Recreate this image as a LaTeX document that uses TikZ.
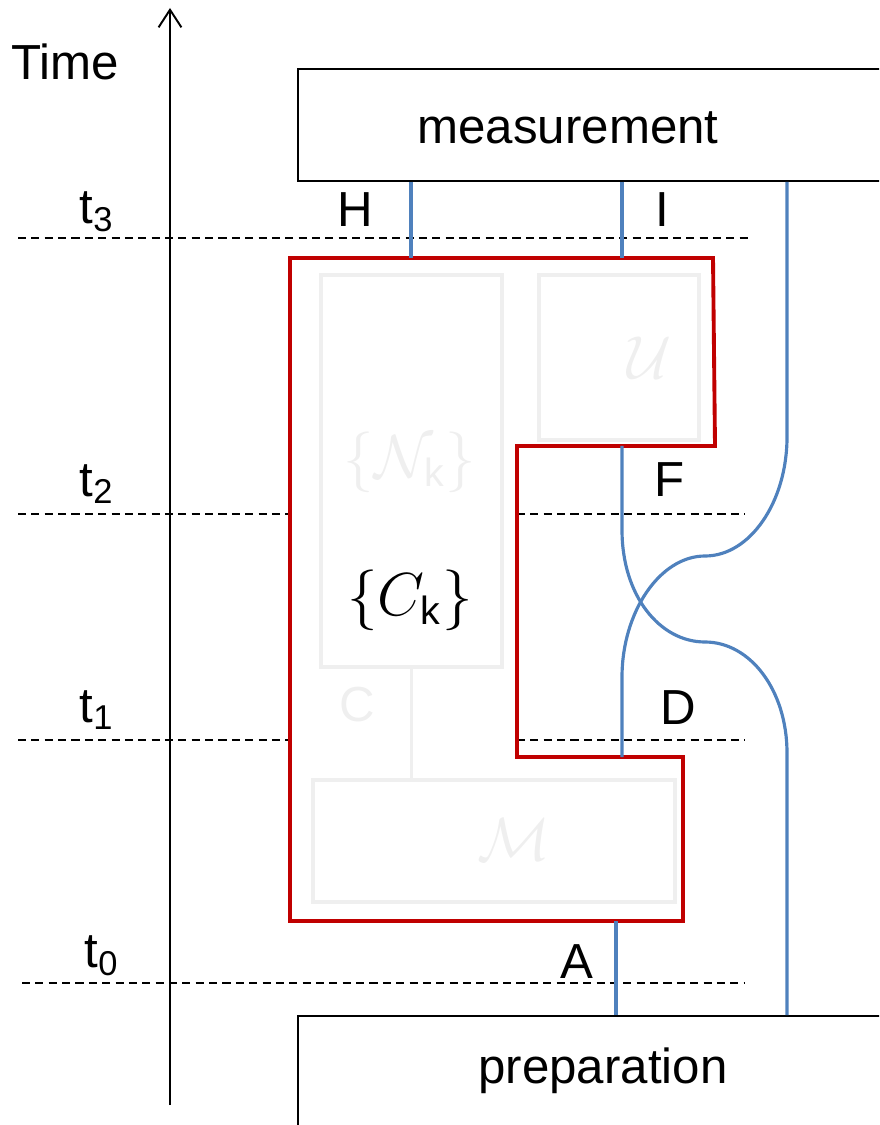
\documentclass[tikz,border=0pt]{standalone}
\usepackage{amsmath}
\usepackage{fontspec}
\setmainfont{Liberation Sans}
\usepackage{tikz}
\usetikzlibrary{arrows.meta}

\definecolor{wireblue}{HTML}{4F81BD}
\definecolor{combred}{HTML}{C00000}
\definecolor{faded}{HTML}{EFEFEF}

\tikzset{
  lbl/.style={inner sep=0pt, font=\fontsize{14}{17}\selectfont},
  opbox/.style={draw, line width=0.55pt, anchor=north west, inner sep=0pt},
  ghost/.style={draw=faded, line width=1pt, anchor=north west, inner sep=0pt},
  ghosttext/.style={inner sep=0pt, text=faded},
  wire/.style={wireblue, line width=0.9pt},
  comb/.style={combred, line width=1.1pt, line join=miter},
  slice/.style={line width=0.5pt, dash pattern=on 2.3pt off 1.5pt}
}

\begin{document}
\begin{tikzpicture}[x=0.01cm, y=-0.01cm]
  \clip (0,0) rectangle (879,1125);

  % time axis and time slices
  \draw[line width=0.55pt, -{Straight Barb[length=5pt, width=6.5pt]}] (170,1105) -- (170,8);
  \node[lbl] (time) at (65,62) {Time};
  \draw[slice] (18,238) -- (750,238);
  \draw[slice] (18,514) -- (290,514);
  \draw[slice] (517,514) -- (745,514);
  \draw[slice] (18,740) -- (290,740);
  \draw[slice] (517,740) -- (745,740);
  \draw[slice] (22,983) -- (745,983);
  \node[lbl] (t3) at (97,212) {t\textsubscript{3}};
  \node[lbl] (t2) at (97,484) {t\textsubscript{2}};
  \node[lbl] (t1) at (97,710) {t\textsubscript{1}};
  \node[lbl] (t0) at (102,956) {t\textsubscript{0}};

  % preparation and measurement
  \node[opbox, minimum width=6.5cm, minimum height=1.12cm] (meas) at (297,68) {};
  \node[lbl] (meastext) at (568,128) {measurement};
  \node[opbox, minimum width=6.5cm, minimum height=1.5cm] (prep) at (297,1015) {};
  \node[lbl] (preptext) at (603,1071) {preparation};

  % faded inner operations
  \node[ghost, minimum width=1.81cm, minimum height=3.92cm] (Nbox) at (319,273) {};
  \node[ghost, minimum width=1.60cm, minimum height=1.65cm] (Ubox) at (537,273) {};
  \node[ghost, minimum width=3.62cm, minimum height=1.22cm] (Mbox) at (311,778) {};
  \draw[draw=faded, line width=1pt] (Nbox.south) -- (Nbox.south |- Mbox.north);
  \node[ghosttext, font=\fontsize{16}{19}\selectfont] (Ntext) at (410,462) {$\{\mathcal{N}_{\text{k}}\}$};
  \node[ghosttext, font=\fontsize{19}{22}\selectfont] (Utext) at (650,358) {$\mathcal{U}$};
  \node[ghosttext, font=\fontsize{19}{22}\selectfont] (Mtext) at (514,840) {$\mathcal{M}$};
  \node[ghosttext, font=\fontsize{14}{17}\selectfont] (Ctext) at (357,705) {C};

  % comb
  \draw[comb] (290,258) -- (713,258) -- (715,446) -- (517,446) -- (517,757)
    -- (683,757) -- (683,921) -- (290,921) -- cycle;
  \node[inner sep=0pt, font=\fontsize{16}{19}\selectfont] (Ck) at (410,600) {$\{C_{\text{k}}\}$};

  % wires
  \coordinate (inH) at (411,258);
  \coordinate (inI) at (622,258);
  \coordinate (outF) at (622,446);
  \coordinate (inD) at (622,757);
  \coordinate (outA) at (616,921);
  \draw[wire] (meas.south -| inH) -- (inH);
  \draw[wire] (meas.south -| inI) -- (inI);
  \draw[wire] (meas.south -| 787,0) -- (787,437)
    .. controls (787,502) and (750,556) .. (705,556)
    .. controls (660,556) and (622,612) .. (622,677) -- (inD);
  \draw[wire] (outF) -- (622,530)
    .. controls (622,596) and (660,642) .. (705,642)
    .. controls (750,642) and (787,690) .. (787,753) -- (prep.north -| 787,0);
  \draw[wire] (outA) -- (prep.north -| outA);

  % system labels
  \node[lbl] (H) at (355,210) {H};
  \node[lbl] (I) at (662,210) {I};
  \node[lbl] (F) at (670,480) {F};
  \node[lbl] (D) at (678,708) {D};
  \node[lbl] (A) at (577,962) {A};
\end{tikzpicture}
\end{document}
